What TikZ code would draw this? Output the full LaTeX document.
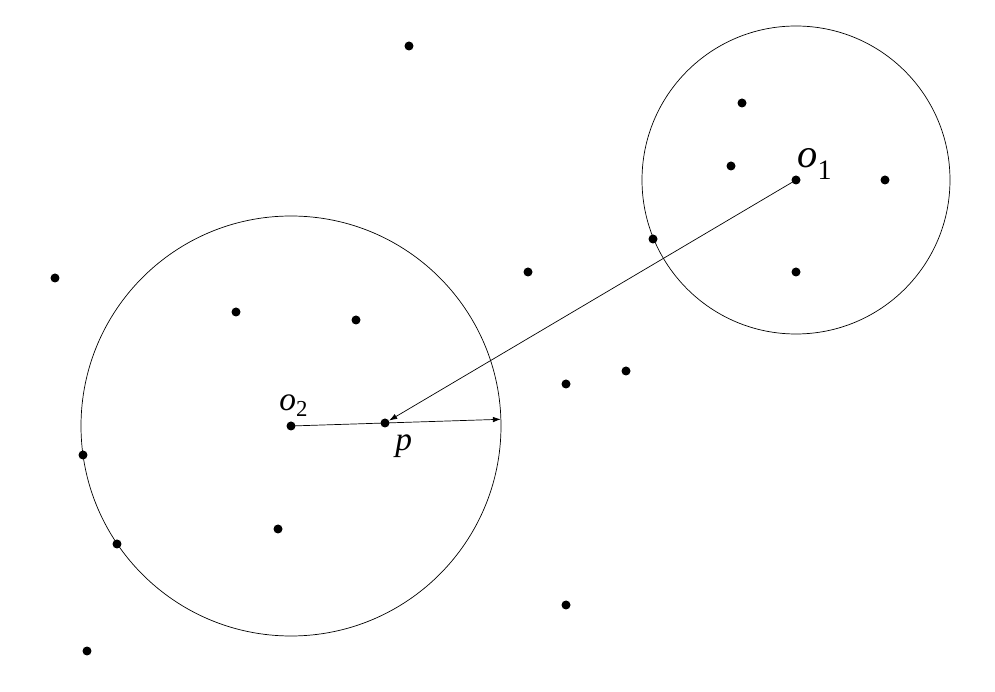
\documentclass[tikz,border=0pt]{standalone}
\usepackage{fontspec}
\setmainfont{Liberation Serif}
\usepackage{tikz}
\usetikzlibrary{
    positioning, % relative placement
    arrows.meta, % arrow tips
    calc % coordinate calculations
}
\tikzset{>={Latex[length=1.6mm,width=1.1mm]}}
\tikzset{
  pt/.style={circle, fill=black, inner sep=0pt, minimum size=0.18cm},
  lbl/.style={font=\fontsize{19}{21}\selectfont, inner sep=0pt, anchor=base west}
}

\begin{document}
\begin{tikzpicture}[x=0.02cm, y=-0.02cm]
      % simple knobs (pixel units, y downwards)
      \def\Rone{154}   % radius around o1
      \def\Rtwo{210}   % radius around o2

      % fixed frame of the picture
      \useasboundingbox (0,0) rectangle (995,692);

      % ===================== CENTRES =====================
      \node[pt] (o1) at (796,180) {};
      \node[pt] (o2) at (291,426) {};
      \node[pt] (p)  at (385,423) {};

      % circles
      \draw (o1) circle[radius=\Rone*0.02cm];
      \draw (o2) circle[radius=\Rtwo*0.02cm];

      % ===================== OTHER POINTS =====================
      \foreach \px/\py [count=\i] in {409/46, 742/103, 731/166, 885/180,
          653/239, 796/272, 528/272, 55/278, 236/312, 356/320,
          626/371, 566/384, 83/455, 117/544, 278/529, 566/605, 87/651}
        \node[pt] (q\i) at (\px,\py) {};

      % ===================== LABELS =====================
      \node[lbl, font=\fontsize{23}{25}\selectfont] (lo1) at (797,168)
        {\textit{o}\raisebox{-6.5pt}{\fontsize{16}{17}\selectfont 1}};
      \node[lbl] (lo2) at (279,411)
        {\textit{o}\raisebox{-3.4pt}{\fontsize{13}{14}\selectfont 2}};
      \node[lbl] (lp)  at (395,451) {\textit{p}};

      % ===================== CONNECTORS =====================
      \coordinate (rim) at ($(o2)!\Rtwo*0.02cm!(p)$);
      \draw[->] (o2.center) -- (rim);
      \draw[->] (o1.center) -- (p);
\end{tikzpicture}
\end{document}
